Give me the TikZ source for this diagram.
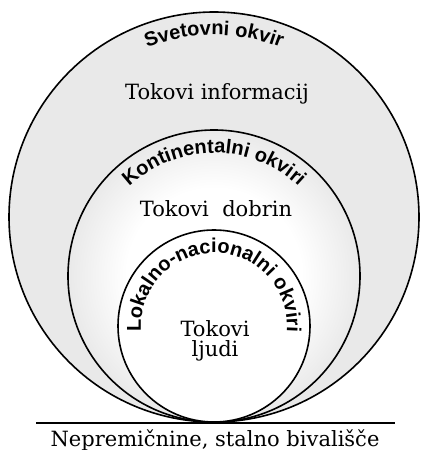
\documentclass[tikz,border=0pt]{standalone}
\usepackage{fontspec}
\setmainfont{DejaVu Serif}
\setsansfont{Liberation Sans}
\usetikzlibrary{decorations.text}
\pgfdeclareradialshading{ringshade}{\pgfpoint{0bp}{0bp}}{color(0bp)=(white); color(15bp)=(white); color(25bp)=(gray!17); color(50bp)=(gray!17)}
\tikzset{
  frame/.style={line width=1.6pt},
  flowtext/.style={font=\fontsize{21}{24}\selectfont},
  arclabel/.style={decorate, decoration={text along path, text align=center,
      text={|\sffamily\bfseries\fontsize{20}{24}\selectfont|#1}}}
}
\begin{document}
\begin{tikzpicture}[x=1pt, y=1pt]
  \useasboundingbox (0,0) rectangle (421,450);
  % world frame
  \fill[gray!17] (214,233) circle (205);
  \draw[frame] (214,233) circle (205);
  % continental frame
  \shade[shading=ringshade] (214,174) circle (146);
  \draw[frame] (214,174) circle (146);
  % local and national frame
  \fill[white] (214,124) circle (96);
  \draw[frame] (214,124) circle (96);
  % ground line
  \draw[line width=2pt] (36,27) -- (395,27);
  % labels along the circles
  \path[arclabel={Svetovni okvir}] (214,233) ++(150:182)
    arc[start angle=150, end angle=30, radius=182];
  \path[arclabel={Kontinentalni okviri}] (214,174) ++(160:123)
    arc[start angle=160, end angle=20, radius=123];
  \path[arclabel={Lokalno-nacionalni okviri}] (214,124) ++(200:73)
    arc[start angle=200, end angle=-20, radius=73];
  % flows
  \node[flowtext, anchor=base] (info) at (217,350) {Tokovi informacij};
  \node[flowtext, anchor=base] (goods) at (216,233) {Tokovi~~dobrin};
  \node[flowtext, anchor=base] (people) at (215,113) {Tokovi};
  \node[flowtext, anchor=base] (peopleb) at (215,93) {ljudi};
  \node[flowtext, anchor=base] (ground) at (215,4) {Nepremičnine, stalno bivališče};
\end{tikzpicture}
\end{document}
